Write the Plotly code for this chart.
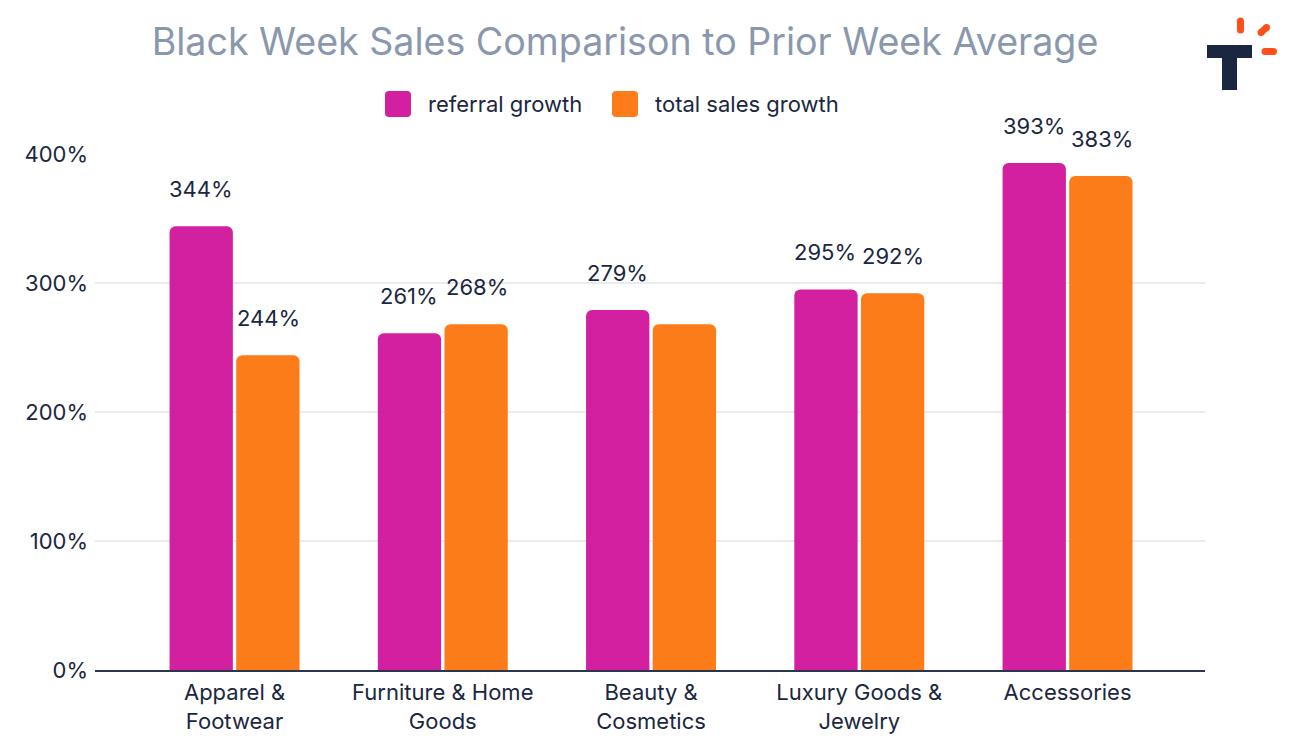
import plotly.graph_objects as go

# Data
categories = [
    "Apparel &<br>Footwear",
    "Furniture & Home<br>Goods",
    "Beauty &<br>Cosmetics",
    "Luxury Goods &<br>Jewelry",
    "Accessories",
]
series_names = ["referral growth", "total sales growth"]
referral_growth = [344, 261, 279, 295, 393]
total_sales_growth = [244, 268, 268, 292, 383]
referral_labels = ["344%", "261%", "279%", "295%", "393%"]
total_sales_labels = ["244%", "268%", "", "292%", "383%"]

MAGENTA = "#d220a0"
ORANGE = "#fc7c19"
NAVY = "#1b2740"
FONT = "Inter"

W, H = 1300, 753
OFF = 8  # page body margin
M_L, M_R, M_T, M_B = 95 - OFF, 103, 154 - OFF, 91


def px(x, y):
    # screen pixel -> paper coordinates
    pw = W - M_L - M_R
    ph = H - M_T - M_B
    return (x - OFF - M_L) / pw, (H - M_B - (y - OFF)) / ph


fig = go.Figure()

fig.add_trace(go.Bar(
    x=categories, y=referral_growth, name=series_names[0],
    marker=dict(color=MAGENTA, cornerradius=6, line=dict(width=0)),
    showlegend=False,
))
fig.add_trace(go.Bar(
    x=categories, y=total_sales_growth, name=series_names[1],
    marker=dict(color=ORANGE, cornerradius=6, line=dict(width=0)),
    showlegend=False,
))

# value labels floating above each bar
annotations = []
for cat, val, lab in zip(categories, referral_growth, referral_labels):
    if lab:
        annotations.append(dict(x=cat, y=val, text=lab, xshift=-34, yshift=37,
                                showarrow=False, yanchor="middle",
                                font=dict(family=FONT, size=22, color=NAVY)))
for cat, val, lab in zip(categories, total_sales_growth, total_sales_labels):
    if lab:
        annotations.append(dict(x=cat, y=val, text=lab, xshift=34, yshift=37,
                                showarrow=False, yanchor="middle",
                                font=dict(family=FONT, size=22, color=NAVY)))

shapes = []

# legend with large rounded swatches
for name, color, sx in zip(series_names, [MAGENTA, ORANGE], [385, 612]):
    x0, y0 = px(sx, 91)
    x1, y1 = px(sx + 26, 117)
    r0, _ = px(sx, 0)
    r1, _ = px(sx + 4, 0)
    rx = r1 - r0
    _, q0 = px(0, 91)
    _, q1 = px(0, 95)
    ry = q0 - q1
    path = (f"M {x0 + rx},{y0} L {x1 - rx},{y0} Q {x1},{y0} {x1},{y0 - ry} "
            f"L {x1},{y1 + ry} Q {x1},{y1} {x1 - rx},{y1} L {x0 + rx},{y1} "
            f"Q {x0},{y1} {x0},{y1 + ry} L {x0},{y0 - ry} Q {x0},{y0} {x0 + rx},{y0} Z")
    shapes.append(dict(type="path", xref="paper", yref="paper", path=path,
                       fillcolor=color, line=dict(width=0)))
    tx, ty = px(sx + 41, 104)
    annotations.append(dict(xref="paper", yref="paper", x=tx, y=ty, text=name,
                            showarrow=False, xanchor="left", yanchor="middle",
                            font=dict(family=FONT, size=22, color=NAVY)))

# logo in the top right corner
x0, y0 = px(1207, 45)
x1, y1 = px(1252, 58)
shapes.append(dict(type="rect", xref="paper", yref="paper", x0=x0, y0=y0, x1=x1, y1=y1,
                   fillcolor=NAVY, line=dict(width=0)))
x0, y0 = px(1222, 57)
x1, y1 = px(1237, 90)
shapes.append(dict(type="rect", xref="paper", yref="paper", x0=x0, y0=y0, x1=x1, y1=y1,
                   fillcolor=NAVY, line=dict(width=0)))
cap = 3.5
for (ax, ay, bx, by) in [(1240.5, 21, 1240.5, 30), (1261, 32.5, 1266.5, 27.5), (1265, 51.5, 1273.5, 51.5)]:
    x0, y0 = px(ax, ay)
    x1, y1 = px(bx, by)
    shapes.append(dict(type="line", xref="paper", yref="paper", x0=x0, y0=y0, x1=x1, y1=y1,
                       line=dict(color="#ff4f1a", width=7)))
    for (cx, cy) in [(ax, ay), (bx, by)]:
        c0, d0 = px(cx - cap, cy - cap)
        c1, d1 = px(cx + cap, cy + cap)
        shapes.append(dict(type="circle", xref="paper", yref="paper", x0=c0, y0=d0, x1=c1, y1=d1,
                           fillcolor="#ff4f1a", line=dict(width=0)))

fig.update_layout(
    width=W, height=H,
    margin=dict(l=M_L, r=M_R, t=M_T, b=M_B),
    paper_bgcolor="white", plot_bgcolor="white",
    barmode="group", bargap=0.36, bargroupgap=0.05,
    showlegend=False,
    title=dict(text="Black Week Sales Comparison to Prior Week Average",
               x=(625 - OFF) / W, xanchor="center",
               y=1 - (42 - OFF) / H, yanchor="middle",
               font=dict(family=FONT, size=37.6, color="#8a98ae")),
    font=dict(family=FONT, color=NAVY),
    annotations=annotations,
    shapes=shapes,
)

fig.update_xaxes(
    range=[-0.67, 4.66],
    showline=True, linecolor="#2a3550", linewidth=2,
    showgrid=False, ticks="", ticklabelstandoff=2,
    tickfont=dict(family=FONT, size=22, color=NAVY),
)
fig.update_yaxes(
    range=[0, 400], dtick=100, ticksuffix="%",
    showgrid=True, gridcolor="#e8ebf0", gridwidth=2,
    zeroline=False, showline=False, ticks="", ticklabelstandoff=6,
    tickfont=dict(family=FONT, size=22, color=NAVY),
)

fig.write_html("out.html")
